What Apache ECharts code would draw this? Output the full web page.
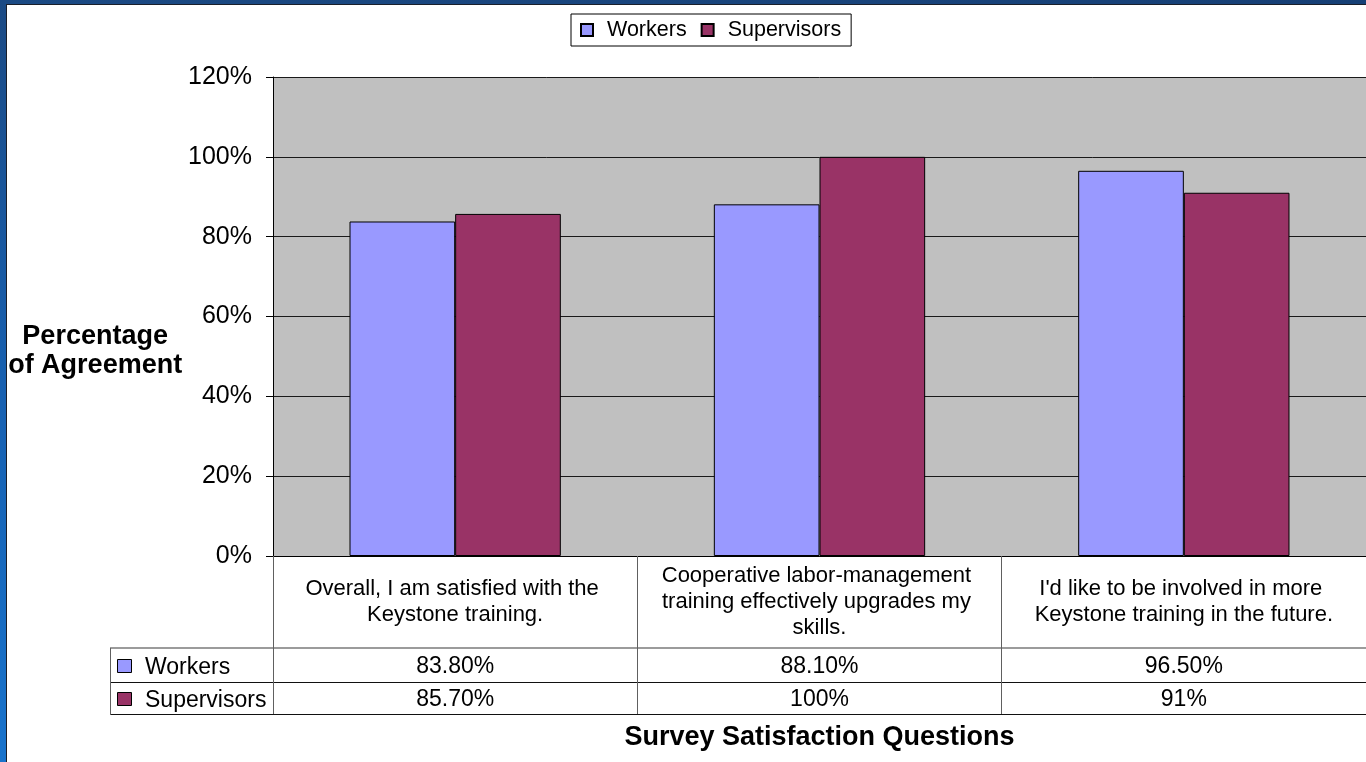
<!DOCTYPE html>
<html>
<head>
<meta charset="utf-8">
<script src="https://cdn.jsdelivr.net/npm/echarts@6/dist/echarts.min.js"></script>
<style>
  html, body { margin: 0; padding: 0; background: #ffffff; }
  #chart { width: 1366px; height: 762px; }
</style>
</head>
<body>
<div id="chart"></div>
<script>
// Survey questions (x categories)
const questions = [
  'Overall, I am satisfied with the Keystone training.',
  'Cooperative labor-management training effectively upgrades my skills.',
  "I'd like to be involved in more Keystone training in the future."
];
const seriesNames = ['Workers', 'Supervisors'];
// Percentage of agreement per question
const workers = [83.8, 88.1, 96.5];
const supervisors = [85.7, 100, 91];
// Value axis range (percent)
const yMin = 0, yMax = 120, yStep = 20;

const colors = ['#9999FF', '#993366'];
const FONT = '"Liberation Sans", Arial, sans-serif';

// Data-table cell text: two decimals unless the value is whole
const fmt = v => (Number.isInteger(v) ? String(v) : v.toFixed(2)) + '%';

const GRID = { left: 273, top: 77, width: 1100, height: 479 };
const rowY = [667, 700];           // centre lines of the two table rows
const axisY = GRID.top + GRID.height;

function valueAxis(data, rowCentre) {
  return {
    type: 'category',
    gridIndex: 0,
    position: 'bottom',
    data: data,
    axisLine: { show: false },
    axisTick: { show: false },
    splitLine: { show: false },
    axisLabel: {
      interval: 0,
      margin: rowCentre - axisY,
      verticalAlign: 'middle',
      fontFamily: FONT, fontSize: 23, color: '#000'
    }
  };
}

const chart = echarts.init(document.getElementById('chart'), null, { renderer: 'canvas' });

const seriesData = [workers, supervisors];

chart.setOption({
  backgroundColor: '#ffffff',
  animation: false,
  legend: {
    data: seriesNames,
    left: 571, top: 14,
    padding: [5, 10, 5, 9],
    itemGap: 14,
    itemWidth: 12, itemHeight: 12,
    icon: 'rect',
    borderColor: '#000', borderWidth: 1,
    textStyle: { fontFamily: FONT, fontSize: 21.5, color: '#000', padding: [0, 0, 0, 9] }
  },
  grid: Object.assign({ show: true, backgroundColor: '#C0C0C0', borderWidth: 0 }, GRID),
  xAxis: [
    {
      type: 'category',
      data: questions,
      name: 'Survey Satisfaction Questions',
      nameLocation: 'middle',
      nameGap: 182,
      nameTextStyle: { fontFamily: FONT, fontSize: 27, fontWeight: 'bold', color: '#000', verticalAlign: 'middle' },
      axisLine: { show: true, lineStyle: { color: '#000', width: 1 } },
      axisTick: { show: true, length: 158, lineStyle: { color: '#606060', width: 1 } },
      axisLabel: {
        interval: 0,
        margin: 46,
        width: 345,
        overflow: 'break',
        lineHeight: 26,
        align: 'center',
        verticalAlign: 'middle',
        fontFamily: FONT, fontSize: 22, color: '#000'
      },
      splitLine: { show: false }
    },
    valueAxis(workers.map(fmt), rowY[0]),
    valueAxis(supervisors.map(fmt), rowY[1])
  ],
  yAxis: {
    type: 'value',
    min: yMin, max: yMax, interval: yStep,
    name: 'Percentage\nof Agreement',
    nameLocation: 'middle',
    nameRotate: 0,
    nameGap: 168,
    nameTextStyle: {
      fontFamily: FONT, fontSize: 27, fontWeight: 'bold', color: '#000',
      align: 'center', verticalAlign: 'top', lineHeight: 29,
      padding: [6, 0, 0, 0]
    },
    axisLine: { show: true, lineStyle: { color: '#000', width: 1 } },
    axisTick: { show: true, length: 7, lineStyle: { color: '#000' } },
    axisLabel: {
      margin: 21,
      formatter: '{value}%',
      fontFamily: FONT, fontSize: 25, color: '#000'
    },
    splitLine: { show: true, lineStyle: { color: '#1a1a1a', width: 1 } }
  },
  series: seriesNames.map((name, i) => ({
    name: name,
    type: 'bar',
    xAxisIndex: 0,
    data: seriesData[i],
    barGap: '0%',
    barCategoryGap: '42%',
    itemStyle: { color: colors[i], borderColor: '#000', borderWidth: 1 }
  })),
  graphic: [
    // table rules
    { type: 'line', shape: { x1: 110, y1: 648, x2: 1366, y2: 648 }, style: { stroke: '#7a7a7a', lineWidth: 1.5 } },
    { type: 'line', shape: { x1: 110, y1: 682.5, x2: 1366, y2: 682.5 }, style: { stroke: '#111', lineWidth: 1 } },
    { type: 'line', shape: { x1: 110, y1: 714.5, x2: 1366, y2: 714.5 }, style: { stroke: '#111', lineWidth: 1 } },
    { type: 'line', shape: { x1: 110.5, y1: 648, x2: 110.5, y2: 715 }, style: { stroke: '#606060', lineWidth: 1 } },
    // table legend keys
    ...seriesNames.map((name, i) => ({
      type: 'rect',
      shape: { x: 117.5, y: rowY[i] - 7.5, width: 14, height: 13 },
      style: { fill: colors[i], stroke: '#000', lineWidth: 1 }
    })),
    ...seriesNames.map((name, i) => ({
      type: 'text',
      x: 145, y: rowY[i] + 1,
      style: { text: name, fontFamily: FONT, fontSize: 23, fill: '#000', verticalAlign: 'middle' }
    })),
    // window frame
    {
      type: 'rect', z: 100,
      shape: { x: 0, y: 0, width: 1366, height: 4 },
      style: { fill: new echarts.graphic.LinearGradient(0, 0, 1, 0, [
        { offset: 0, color: '#1b4a84' }, { offset: 1, color: '#163f75' }
      ]) }
    },
    {
      type: 'rect', z: 100,
      shape: { x: 0, y: 0, width: 6, height: 762 },
      style: { fill: new echarts.graphic.LinearGradient(0, 0, 0, 1, [
        { offset: 0, color: '#1b4a84' }, { offset: 0.5, color: '#1760b0' }, { offset: 1, color: '#1873cc' }
      ]) }
    },
    { type: 'line', z: 100, shape: { x1: 6.5, y1: 4, x2: 6.5, y2: 762 }, style: { stroke: '#1a1f2a', lineWidth: 1 } },
    { type: 'line', z: 100, shape: { x1: 6, y1: 4.5, x2: 1366, y2: 4.5 }, style: { stroke: '#1a1f2a', lineWidth: 1 } }
  ]
});
</script>
</body>
</html>
